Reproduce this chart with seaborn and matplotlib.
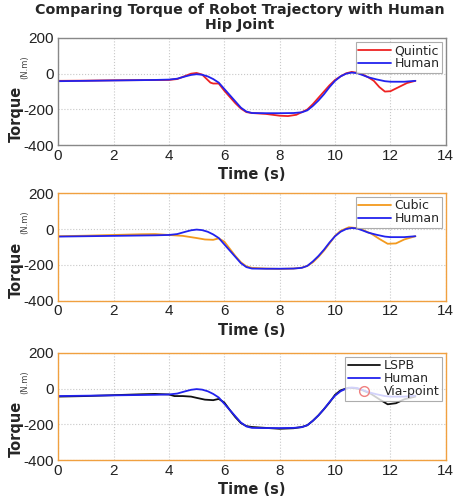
import numpy as np
import pandas as pd
import matplotlib
matplotlib.use("Agg")
import matplotlib.pyplot as plt
import seaborn as sns

# ---------------- data ----------------
t_human = [0, 1, 2, 3, 3.5, 4, 4.3, 4.6, 4.8, 5.0, 5.2, 5.4, 5.6, 5.8, 6.0, 6.2, 6.4, 6.6, 6.8, 7.0,
           7.5, 8.0, 8.5, 8.8, 9.0, 9.2, 9.4, 9.6, 9.8, 10.0, 10.2, 10.4, 10.6, 10.8, 11.0, 11.2,
           11.5, 11.8, 12.0, 12.5, 12.9]
human = [-42, -40, -38, -36, -35, -33, -28, -15, -7, -3, -6, -15, -30, -50, -85, -120, -155, -190,
         -212, -220, -221, -221, -220, -216, -205, -180, -150, -115, -75, -40, -15, 0, 6, 3, -8, -20,
         -32, -42, -45, -45, -40]

t_quintic = [0, 1, 2, 3, 4, 4.3, 4.6, 4.8, 5.0, 5.2, 5.4, 5.5, 5.6, 5.8, 6.0, 6.2, 6.4, 6.6, 6.8, 7.0,
             7.5, 8.0, 8.3, 8.6, 9.0, 9.2, 9.4, 9.6, 9.8, 10.0, 10.2, 10.4, 10.6, 10.8, 11.0, 11.2,
             11.4, 11.6, 11.8, 12.0, 12.3, 12.6, 12.9]
quintic = [-40, -39, -37, -36, -35, -30, -12, 0, 4, -5, -35, -50, -55, -55, -95, -130, -165, -195,
           -215, -220, -225, -235, -237, -230, -200, -170, -135, -100, -65, -35, -15, 2, 10, 5, -5,
           -20, -40, -75, -100, -98, -75, -52, -40]

t_cubic = [0, 1, 2, 3, 3.5, 4, 4.5, 5, 5.3, 5.6, 5.8, 6.0, 6.2, 6.4, 6.6, 6.8, 7.0, 7.5, 8, 8.5, 8.8,
           9.0, 9.2, 9.4, 9.6, 9.8, 10, 10.2, 10.5, 10.8, 11, 11.3, 11.6, 11.9, 12.2, 12.5, 12.9]
cubic = [-40, -37, -33, -29, -28, -33, -38, -50, -58, -60, -52, -70, -110, -150, -185, -208, -216,
         -220, -222, -220, -215, -205, -185, -155, -120, -80, -38, -10, 10, 5, -5, -25, -55, -82, -80,
         -58, -40]

t_lspb = [0, 1, 2, 3, 3.5, 4, 4.2, 4.5, 4.8, 5.0, 5.3, 5.6, 5.8, 6.0, 6.2, 6.4, 6.6, 6.8, 7.0, 7.5, 8,
          8.5, 8.8, 9.0, 9.2, 9.4, 9.6, 9.8, 10, 10.2, 10.5, 10.8, 11, 11.3, 11.6, 11.9, 12.2, 12.5, 12.9]
lspb = [-45, -42, -37, -32, -30, -33, -42, -42, -45, -52, -62, -65, -58, -78, -120, -160, -193, -210,
        -215, -220, -225, -222, -215, -205, -180, -150, -115, -78, -35, -10, 5, 0, -10, -30, -60, -88,
        -82, -60, -45]

x_ticks = [0, 2, 4, 6, 8, 10, 12, 14]
y_ticks = [-400, -200, 0, 200]
title = "Comparing Torque of Robot Trajectory with Human\nHip Joint"

# ---------------- style ----------------
sns.set_theme(style="white")
plt.rcParams["font.family"] = ["DejaVu Sans"]
tick_font = ["Liberation Sans", "DejaVu Sans"]

fig = plt.figure(figsize=(4.54, 4.99), dpi=100)
positions = [
    [0.128, 0.709, 0.854, 0.215],
    [0.128, 0.397, 0.854, 0.216],
    [0.128, 0.078, 0.854, 0.215],
]
panels = [
    ("Quintic", t_quintic, quintic, "#ee2222", "#888888", False),
    ("Cubic", t_cubic, cubic, "#f39a1e", "#f0a040", False),
    ("LSPB", t_lspb, lspb, "#111111", "#f0a040", True),
]

for i, (name, tt, vals, col, frame_col, via) in enumerate(panels):
    ax = fig.add_axes(positions[i])
    df_r = pd.DataFrame({"t": tt, "v": vals})
    df_h = pd.DataFrame({"t": t_human, "v": human})
    sns.lineplot(data=df_r, x="t", y="v", ax=ax, color=col, lw=1.3, label=name, sort=False)
    sns.lineplot(data=df_h, x="t", y="v", ax=ax, color="#2222ee", lw=1.3, label="Human", sort=False)
    if via:
        ax.plot([], [], ls="none", marker="o", mfc="none", mec="#f08080", ms=7, label="Via-point")
    ax.set_xlim(0, 14)
    ax.set_ylim(-400, 200)
    ax.set_xticks(x_ticks)
    ax.set_yticks(y_ticks)
    ax.set_xticklabels([str(v) for v in x_ticks], fontsize=11, family=tick_font, color="#222222")
    ax.set_yticklabels([str(v) for v in y_ticks], fontsize=11, family=tick_font, color="#222222")
    ax.tick_params(axis="both", direction="in", length=3, color=frame_col)
    ax.tick_params(axis="x", pad=2.5)
    ax.tick_params(axis="y", pad=3)
    ax.grid(True, ls=":", color="#c8c8c8", lw=0.8)
    for s in ax.spines.values():
        s.set_color(frame_col)
        s.set_linewidth(1.0)
    ax.set_xlabel("Time (s)", fontsize=10.5, fontweight="bold", labelpad=3)
    ax.set_ylabel("")
    ax.text(-0.107, 0.29, "Torque", transform=ax.transAxes, rotation=90, fontsize=10.5,
            fontweight="bold", ha="center", va="center")
    ax.text(-0.085, 0.73, "(N.m)", transform=ax.transAxes, rotation=90, fontsize=6,
            ha="center", va="center", color="#444444")
    leg = ax.legend(loc="upper right", fontsize=9, frameon=True, fancybox=False,
                    handlelength=2.6, borderpad=0.2, labelspacing=0.0, handletextpad=0.3,
                    borderaxespad=0.3)
    leg.get_frame().set_edgecolor("#999999")
    leg.get_frame().set_linewidth(0.8)

fig.suptitle(title, x=0.528, y=0.993, fontsize=10.3, fontweight="bold", linespacing=1.05,
             va="top")

fig.savefig("out.png", dpi=100)
